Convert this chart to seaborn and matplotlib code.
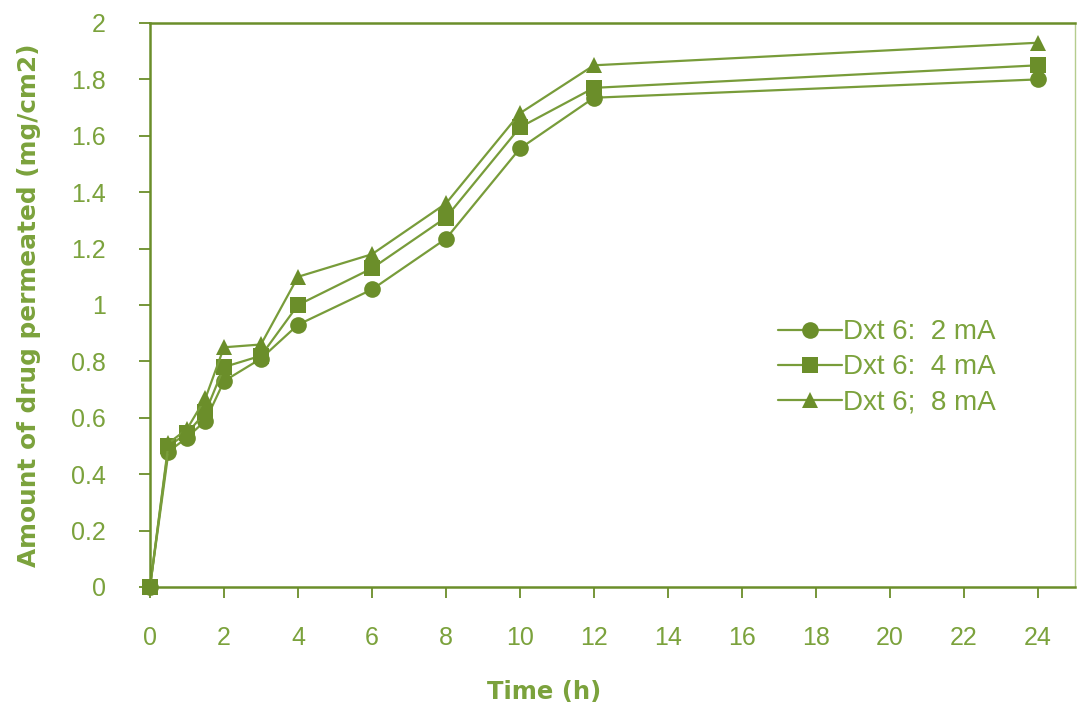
import matplotlib
matplotlib.use("Agg")
import matplotlib.pyplot as plt
import seaborn as sns
import pandas as pd

time_h = [0, 0.5, 1, 1.5, 2, 3, 4, 6, 8, 10, 12, 24]
dxt_2mA = [0, 0.48, 0.53, 0.59, 0.73, 0.81, 0.93, 1.055, 1.235, 1.555, 1.735, 1.80]
dxt_4mA = [0, 0.50, 0.545, 0.62, 0.78, 0.82, 1.00, 1.13, 1.31, 1.63, 1.77, 1.85]
dxt_8mA = [0, 0.51, 0.56, 0.67, 0.85, 0.86, 1.10, 1.18, 1.36, 1.68, 1.85, 1.93]
series_names = ["Dxt 6:  2 mA", "Dxt 6:  4 mA", "Dxt 6;  8 mA"]
x_ticks = list(range(0, 25, 2))
y_ticks = [0, 0.2, 0.4, 0.6, 0.8, 1, 1.2, 1.4, 1.6, 1.8, 2]
y_tick_labels = ["0", "0.2", "0.4", "0.6", "0.8", "1", "1.2", "1.4", "1.6", "1.8", "2"]

frames = []
for name, vals in zip(series_names, [dxt_2mA, dxt_4mA, dxt_8mA]):
    frames.append(pd.DataFrame({"t": time_h, "v": vals, "s": name}))
df = pd.concat(frames, ignore_index=True)

sns.set_theme(style="white")
plt.rcParams['font.family'] = ['Liberation Sans', 'DejaVu Sans']

GREEN = "#6B8E2A"
LINE = "#789C3A"
TXT = "#7BA23C"

fig = plt.figure(figsize=(10.77, 7.15), dpi=100)
ax = fig.add_axes([150/1077, 1-587/715, 927/1077 - 0.002, 564/715])

sns.lineplot(data=df, x="t", y="v", hue="s", style="s",
             palette=[GREEN]*3,
             markers={series_names[0]: "o", series_names[1]: "s", series_names[2]: "^"},
             dashes=False, markersize=12, markeredgewidth=0, linewidth=1.6,
             ax=ax, legend=True)

ax.set_xlim(0, 25)
ax.set_ylim(0, 2)
ax.set_xticks(x_ticks)
ax.set_xticklabels([str(t) for t in x_ticks])
ax.set_yticks(y_ticks)
ax.set_yticklabels(y_tick_labels)
for ln in ax.get_lines():
    ln.set_clip_on(False)
    ln.set_color(LINE)
    ln.set_markerfacecolor(GREEN)

ax.tick_params(axis="both", direction="out", length=8, width=1.3, color=GREEN,
               labelsize=18, labelcolor=TXT, bottom=True, left=True)
ax.tick_params(axis="x", pad=20)
ax.tick_params(axis="y", pad=24)

for side in ["left", "bottom", "top"]:
    ax.spines[side].set_color(GREEN)
    ax.spines[side].set_linewidth(1.8)
ax.spines["right"].set_color("#B5CC8E")
ax.spines["right"].set_linewidth(1.0)

ax.set_xlabel("Time (h)", fontsize=17.5, fontweight="bold", color=TXT,
              family=["DejaVu Sans"])
ax.set_ylabel("Amount of drug permeated (mg/cm2)", fontsize=17.8, fontweight="bold",
              color=TXT, family=["DejaVu Sans"])
ax.xaxis.set_label_coords(0.426, -0.165)
ax.yaxis.set_label_coords(-0.118, 0.5)

leg = ax.legend(loc="upper left", bbox_to_anchor=(0.667, 0.494), frameon=False,
                fontsize=20, handlelength=2.3, handletextpad=0.05,
                labelspacing=0.32, borderaxespad=0)
for t in leg.get_texts():
    t.set_color(TXT)
for h in leg.get_lines():
    h.set_color(LINE)
    h.set_markerfacecolor(GREEN)

fig.savefig("out.png", dpi=100)
